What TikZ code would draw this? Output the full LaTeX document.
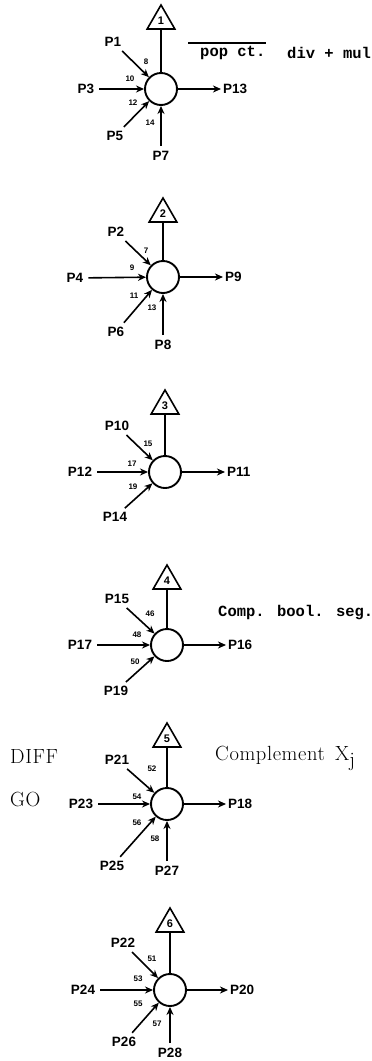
\documentclass[tikz,border=0pt]{standalone}
\usepackage{fontspec}
\newfontfamily\labfont{Liberation Sans}
\newfontfamily\typefont{Liberation Mono}
\newfontfamily\widefont{Latin Modern Roman}[LetterSpace=3]
\usetikzlibrary{arrows.meta, shapes.geometric}

\begin{document}
\begin{tikzpicture}[x=1pt, y=-1pt,
		wire/.style={line width=1.6pt},
		feed/.style={wire, -{Stealth[length=8pt, width=7pt, inset=2.5pt]}, shorten <=3pt},
		outfeed/.style={wire, -{Stealth[length=8pt, width=7pt, inset=2.5pt]}},
		hub/.style={circle, draw, line width=1.9pt, minimum size=32pt, inner sep=0pt},
		flag/.style={regular polygon, regular polygon sides=3, draw, line width=1.6pt, minimum size=32pt, inner sep=0pt, font=\labfont\bfseries\fontsize{11}{12}\selectfont},
		plab/.style={inner sep=2pt, font=\labfont\bfseries\fontsize{13.5}{14}\selectfont},
		wnum/.style={inner sep=0pt, font=\labfont\bfseries\fontsize{8}{9}\selectfont},
		typenote/.style={anchor=west, inner sep=0pt, font=\typefont\bfseries\fontsize{15.5}{16}\selectfont},
		romannote/.style={anchor=west, inner sep=0pt, font=\widefont\fontsize{20.5}{22}\selectfont}]
	\useasboundingbox (0, 0) rectangle (372, 1061);
	% Stage 1:
	\node[hub] (c1) at (161, 89) {};
	\node[flag] (t1) at (161, 21) {1};
	\node[plab] (p1) at (113, 42) {P1};
	\node[plab] (p3) at (86, 89) {P3};
	\node[plab] (p5) at (115, 136) {P5};
	\node[plab] (p7) at (161, 156) {P7};
	\node[plab, anchor=west] (p13) at (221, 89) {P13};
	\node[wnum] (n8) at (146, 62) {8};
	\node[wnum] (n10) at (130, 79) {10};
	\node[wnum] (n12) at (133, 103) {12};
	\node[wnum] (n14) at (150, 123) {14};
	\draw[wire] (t1.south) -- (c1.north);
	\draw[feed] (p1) -- (c1);
	\draw[feed] (p3) -- (c1);
	\draw[feed] (p5) -- (c1);
	\draw[feed] (p7) -- (c1);
	\draw[outfeed] (c1) -- (p13);
	\node[typenote] (popct) at (200, 53) {pop ct.};
	\node[typenote] (divmul) at (287, 53) {div + mul};
	\draw[line width=1.4pt] ([xshift=-12pt, yshift=3pt]popct.north west) -- ([yshift=3pt]popct.north east);
	% Stage 2:
	\node[hub] (c2) at (163, 277) {};
	\node[flag] (t2) at (163, 214) {2};
	\node[plab] (p2) at (116, 232) {P2};
	\node[plab] (p4) at (75, 278) {P4};
	\node[plab] (p6) at (116, 332) {P6};
	\node[plab] (p8) at (163, 345) {P8};
	\node[plab, anchor=west] (p9) at (223, 277) {P9};
	\node[wnum] (n7) at (146, 251) {7};
	\node[wnum] (n9) at (132, 268) {9};
	\node[wnum] (n11) at (134, 296) {11};
	\node[wnum] (n13) at (152, 308) {13};
	\draw[wire] (t2.south) -- (c2.north);
	\draw[feed] (p2) -- (c2);
	\draw[feed] (p4) -- (c2);
	\draw[feed] (p6) -- (c2);
	\draw[feed] (p8) -- (c2);
	\draw[outfeed] (c2) -- (p9);
	% Stage 3:
	\node[hub] (c3) at (165, 472) {};
	\node[flag] (t3) at (165, 406) {3};
	\node[plab] (p10) at (117, 426) {P10};
	\node[plab] (p12) at (80, 472) {P12};
	\node[plab] (p14) at (115, 517) {P14};
	\node[plab, anchor=west] (p11) at (225, 472) {P11};
	\node[wnum] (n15) at (148, 444) {15};
	\node[wnum] (n17) at (132, 464) {17};
	\node[wnum] (n19) at (133, 487) {19};
	\draw[wire] (t3.south) -- (c3.north);
	\draw[feed] (p10) -- (c3);
	\draw[feed] (p12) -- (c3);
	\draw[feed] (p14) -- (c3);
	\draw[outfeed] (c3) -- (p11);
	% Stage 4:
	\node[hub] (c4) at (167, 645) {};
	\node[flag] (t4) at (167, 581) {4};
	\node[plab] (p15) at (117, 599) {P15};
	\node[plab] (p17) at (80, 645) {P17};
	\node[plab] (p19) at (116, 691) {P19};
	\node[plab, anchor=west] (p16) at (226, 645) {P16};
	\node[wnum] (n46) at (150, 614) {46};
	\node[wnum] (n48) at (137, 635) {48};
	\node[wnum] (n50) at (135, 662) {50};
	\draw[wire] (t4.south) -- (c4.north);
	\draw[feed] (p15) -- (c4);
	\draw[feed] (p17) -- (c4);
	\draw[feed] (p19) -- (c4);
	\draw[outfeed] (c4) -- (p16);
	\node[typenote] (boolseg) at (218, 613) {Comp. bool. seg.};
	% Stage 5:
	\node[hub] (c5) at (167, 804) {};
	\node[flag] (t5) at (167, 739) {5};
	\node[plab] (p21) at (117, 760) {P21};
	\node[plab] (p23) at (81, 804) {P23};
	\node[plab] (p25) at (112, 866) {P25};
	\node[plab] (p27) at (167, 871) {P27};
	\node[plab, anchor=west] (p18) at (226, 804) {P18};
	\node[wnum] (n52) at (152, 769) {52};
	\node[wnum] (n54) at (137, 797) {54};
	\node[wnum] (n56) at (137, 823) {56};
	\node[wnum] (n58) at (155, 839) {58};
	\draw[wire] (t5.south) -- (c5.north);
	\draw[feed] (p21) -- (c5);
	\draw[feed] (p23) -- (c5);
	\draw[feed] (p25) -- (c5);
	\draw[feed] (p27) -- (c5);
	\draw[outfeed] (c5) -- (p18);
	\node[romannote] (diff) at (10, 756) {DIFF};
	\node[romannote] (go) at (10, 799) {GO};
	\node[romannote] (compl) at (215, 758) {Complement\enspace X\raisebox{-6pt}{j}};
	% Stage 6:
	\node[hub] (c6) at (170, 990) {};
	\node[flag] (t6) at (170, 924) {6};
	\node[plab] (p22) at (123, 943) {P22};
	\node[plab] (p24) at (83, 990) {P24};
	\node[plab] (p26) at (124, 1042) {P26};
	\node[plab] (p28) at (170, 1053) {P28};
	\node[plab, anchor=west] (p20) at (228, 990) {P20};
	\node[wnum] (n51) at (152, 959) {51};
	\node[wnum] (n53) at (138, 979) {53};
	\node[wnum] (n55) at (138, 1004) {55};
	\node[wnum] (n57) at (157, 1024) {57};
	\draw[wire] (t6.south) -- (c6.north);
	\draw[feed] (p22) -- (c6);
	\draw[feed] (p24) -- (c6);
	\draw[feed] (p26) -- (c6);
	\draw[feed] (p28) -- (c6);
	\draw[outfeed] (c6) -- (p20);
\end{tikzpicture}
\end{document}
